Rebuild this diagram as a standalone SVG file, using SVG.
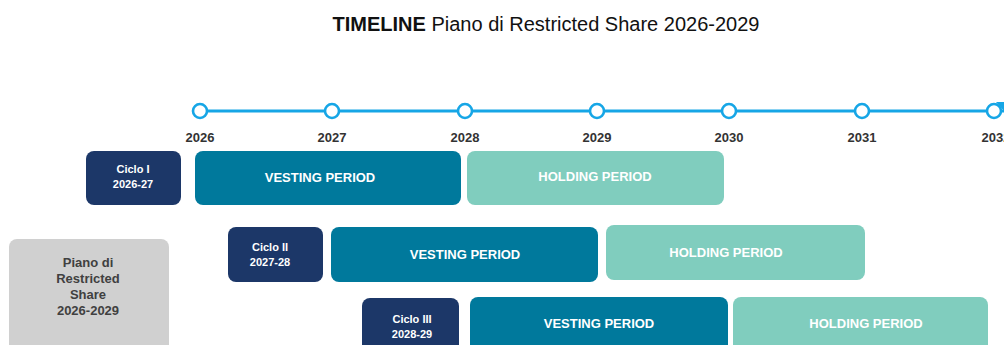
<svg xmlns="http://www.w3.org/2000/svg" width="1004" height="345" viewBox="0 0 1004 345">
<style>
.t{font-family:"Liberation Sans",Arial,sans-serif}
.yr{font-family:"Liberation Sans",Arial,sans-serif;font-size:13px;font-weight:bold;fill:#333;text-anchor:middle}
.w{font-family:"Liberation Sans",Arial,sans-serif;font-size:13px;font-weight:bold;fill:#fff;text-anchor:middle}
.c{font-family:"Liberation Sans",Arial,sans-serif;font-size:11px;font-weight:bold;fill:#fff;text-anchor:middle}
.g{font-family:"Liberation Sans",Arial,sans-serif;font-size:13px;font-weight:bold;fill:#404040;text-anchor:middle}
.navy{fill:#1c3768}
.vest{fill:#00799c}
.hold{fill:#80cdbe}
.gray{fill:#d0d0d0}
.dot{fill:#fff;stroke:#16a6e6;stroke-width:2.6}
</style>
<rect width="1004" height="345" fill="#fff"/>
<text class="t" x="546" y="31" font-size="20" fill="#111" text-anchor="middle"><tspan font-weight="bold">TIMELINE</tspan> Piano di Restricted Share 2026-2029</text>
<g id="connectors">
<line x1="200" y1="111" x2="1004" y2="111" stroke="#16a6e6" stroke-width="3"/>
</g>
<g id="timeline">
<circle class="dot" cx="200" cy="111" r="7"/>
<circle class="dot" cx="332" cy="111" r="7"/>
<circle class="dot" cx="465" cy="111" r="7"/>
<circle class="dot" cx="597" cy="111" r="7"/>
<circle class="dot" cx="729" cy="111" r="7"/>
<circle class="dot" cx="862" cy="111" r="7"/>
<circle class="dot" cx="994" cy="111" r="7"/>
<polygon points="996,102 1004,102 1004,111" fill="#16a6e6"/>
<text class="yr" x="200" y="142">2026</text>
<text class="yr" x="332" y="142">2027</text>
<text class="yr" x="465" y="142">2028</text>
<text class="yr" x="597" y="142">2029</text>
<text class="yr" x="729" y="142">2030</text>
<text class="yr" x="862" y="142">2031</text>
<text class="yr" x="996" y="142">2032</text>
</g>
<g id="piano">
<rect class="gray" x="9" y="239" width="160" height="120" rx="8"/>
<text class="g" x="88" y="267">Piano di</text>
<text class="g" x="88" y="283">Restricted</text>
<text class="g" x="88" y="299">Share</text>
<text class="g" x="88" y="315">2026-2029</text>
</g>
<g id="ciclo1">
<rect class="navy" x="86" y="151" width="95" height="54" rx="8"/>
<text class="c" x="133" y="173">Ciclo I</text>
<text class="c" x="133" y="188">2026-27</text>
</g>
<g id="vesting1">
<rect class="vest" x="195" y="151" width="266" height="54" rx="8"/>
<text class="w" x="320" y="182">VESTING PERIOD</text>
</g>
<g id="holding1">
<rect class="hold" x="467" y="151" width="257" height="54" rx="8"/>
<text class="w" x="595" y="181">HOLDING PERIOD</text>
</g>
<g id="ciclo2">
<rect class="navy" x="228" y="227" width="95" height="55" rx="8"/>
<text class="c" x="270" y="251">Ciclo II</text>
<text class="c" x="270" y="266">2027-28</text>
</g>
<g id="vesting2">
<rect class="vest" x="331" y="227" width="267" height="55" rx="8"/>
<text class="w" x="465" y="259">VESTING PERIOD</text>
</g>
<g id="holding2">
<rect class="hold" x="606" y="225" width="259" height="55" rx="8"/>
<text class="w" x="726" y="257">HOLDING PERIOD</text>
</g>
<g id="ciclo3">
<rect class="navy" x="362" y="298" width="97" height="60" rx="8"/>
<text class="c" x="412" y="323">Ciclo III</text>
<text class="c" x="412" y="338">2028-29</text>
</g>
<g id="vesting3">
<rect class="vest" x="470" y="297" width="258" height="60" rx="8"/>
<text class="w" x="599" y="328">VESTING PERIOD</text>
</g>
<g id="holding3">
<rect class="hold" x="733" y="297" width="255" height="60" rx="8"/>
<text class="w" x="866" y="328">HOLDING PERIOD</text>
</g>
</svg>
